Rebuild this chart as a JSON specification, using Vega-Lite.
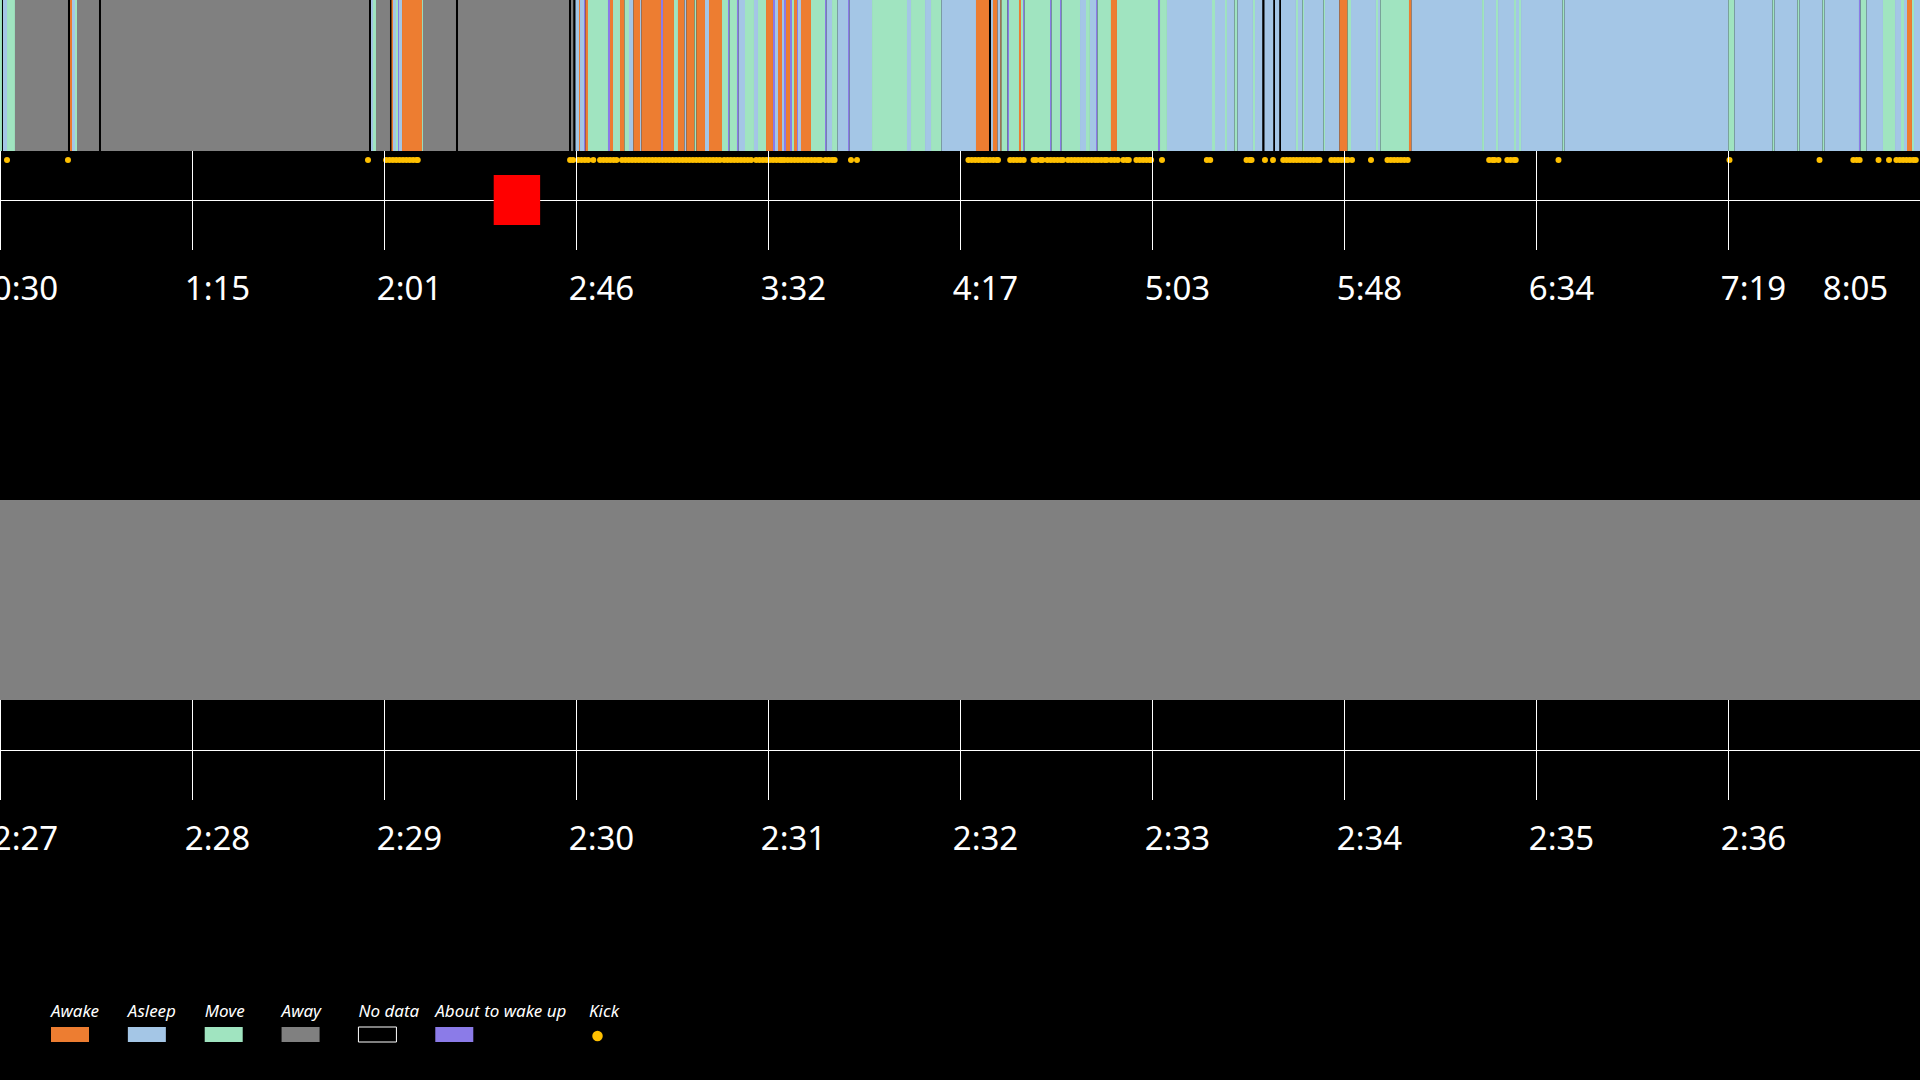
{
"$schema":"https://vega.github.io/schema/vega-lite/v6.json",
"width":1920,"height":1080,"padding":0,"autosize":{"type":"none"},
"background":"#000000",
"config":{"view":{"stroke":null}},
"datasets":{
"states":[
{"start":30.00,"end":30.47,"state":"Move"},{"start":30.47,"end":30.71,"state":"No data"},{"start":30.71,"end":31.66,"state":"Asleep"},{"start":31.66,"end":33.55,"state":"Move"},{"start":33.55,"end":46.11,"state":"Away"},{"start":46.11,"end":46.59,"state":"No data"},{"start":46.59,"end":47.06,"state":"Awake"},{"start":47.06,"end":47.77,"state":"Asleep"},{"start":47.77,"end":48.25,"state":"Move"},{"start":48.25,"end":53.46,"state":"Away"},{"start":53.46,"end":53.93,"state":"No data"},{"start":53.93,"end":117.45,"state":"Away"},{"start":117.45,"end":117.92,"state":"No data"},{"start":117.92,"end":118.39,"state":"Asleep"},{"start":118.39,"end":119.10,"state":"Move"},{"start":119.10,"end":122.42,"state":"Away"},{"start":122.42,"end":122.78,"state":"No data"},{"start":122.78,"end":123.13,"state":"Awake"},{"start":123.13,"end":123.84,"state":"Asleep"},{"start":123.84,"end":124.32,"state":"Move"},{"start":124.32,"end":124.56,"state":"About to wake up"},{"start":124.56,"end":125.27,"state":"Asleep"},{"start":125.27,"end":130.01,"state":"Awake"},{"start":130.01,"end":130.24,"state":"Move"},{"start":130.24,"end":138.06,"state":"Away"},{"start":138.06,"end":138.54,"state":"No data"},{"start":138.54,"end":164.84,"state":"Away"},{"start":164.84,"end":165.31,"state":"No data"},{"start":165.31,"end":165.91,"state":"Away"},{"start":165.91,"end":166.38,"state":"No data"},{"start":166.38,"end":167.21,"state":"Asleep"},{"start":167.21,"end":167.45,"state":"Awake"},{"start":167.45,"end":168.40,"state":"Asleep"},{"start":168.40,"end":168.75,"state":"About to wake up"},{"start":168.75,"end":169.34,"state":"Awake"},{"start":169.34,"end":174.08,"state":"Move"},{"start":174.08,"end":174.56,"state":"About to wake up"},{"start":174.56,"end":175.27,"state":"Awake"},{"start":175.27,"end":176.93,"state":"Move"},{"start":176.93,"end":177.99,"state":"Awake"},{"start":177.99,"end":179.06,"state":"Move"},{"start":179.06,"end":180.13,"state":"Asleep"},{"start":180.13,"end":181.67,"state":"Awake"},{"start":181.67,"end":182.02,"state":"Asleep"},{"start":182.02,"end":186.64,"state":"Awake"},{"start":186.64,"end":187.12,"state":"About to wake up"},{"start":187.12,"end":189.72,"state":"Awake"},{"start":189.72,"end":190.67,"state":"Move"},{"start":190.67,"end":192.21,"state":"Awake"},{"start":192.21,"end":192.68,"state":"Asleep"},{"start":192.68,"end":194.58,"state":"Awake"},{"start":194.58,"end":195.05,"state":"Move"},{"start":195.05,"end":197.07,"state":"Awake"},{"start":197.07,"end":198.02,"state":"Asleep"},{"start":198.02,"end":201.10,"state":"Awake"},{"start":201.10,"end":202.52,"state":"Move"},{"start":202.52,"end":202.88,"state":"About to wake up"},{"start":202.88,"end":204.65,"state":"Move"},{"start":204.65,"end":205.01,"state":"About to wake up"},{"start":205.01,"end":206.55,"state":"Asleep"},{"start":206.55,"end":208.68,"state":"Move"},{"start":208.68,"end":209.63,"state":"Asleep"},{"start":209.63,"end":211.53,"state":"Move"},{"start":211.53,"end":213.18,"state":"Awake"},{"start":213.18,"end":213.66,"state":"About to wake up"},{"start":213.66,"end":214.37,"state":"Asleep"},{"start":214.37,"end":215.32,"state":"Awake"},{"start":215.32,"end":215.79,"state":"Asleep"},{"start":215.79,"end":216.27,"state":"About to wake up"},{"start":216.27,"end":217.21,"state":"Awake"},{"start":217.21,"end":217.69,"state":"About to wake up"},{"start":217.69,"end":218.16,"state":"Move"},{"start":218.16,"end":218.87,"state":"Awake"},{"start":218.87,"end":219.11,"state":"About to wake up"},{"start":219.11,"end":219.82,"state":"Asleep"},{"start":219.82,"end":222.19,"state":"Awake"},{"start":222.19,"end":225.51,"state":"Move"},{"start":225.51,"end":225.86,"state":"About to wake up"},{"start":225.86,"end":227.17,"state":"Asleep"},{"start":227.17,"end":228.47,"state":"Move"},{"start":228.47,"end":230.96,"state":"Asleep"},{"start":230.96,"end":231.32,"state":"About to wake up"},{"start":231.32,"end":236.65,"state":"Asleep"},{"start":236.65,"end":244.94,"state":"Move"},{"start":244.94,"end":245.89,"state":"Asleep"},{"start":245.89,"end":249.21,"state":"Move"},{"start":249.21,"end":250.63,"state":"Asleep"},{"start":250.63,"end":253.11,"state":"Move"},{"start":253.11,"end":261.29,"state":"Asleep"},{"start":261.29,"end":264.37,"state":"Awake"},{"start":264.37,"end":264.85,"state":"No data"},{"start":264.85,"end":265.32,"state":"Asleep"},{"start":265.32,"end":266.39,"state":"Awake"},{"start":266.39,"end":267.10,"state":"Asleep"},{"start":267.10,"end":267.33,"state":"Awake"},{"start":267.33,"end":268.75,"state":"Move"},{"start":268.75,"end":269.11,"state":"About to wake up"},{"start":269.11,"end":271.48,"state":"Move"},{"start":271.48,"end":271.96,"state":"Awake"},{"start":271.96,"end":272.43,"state":"Move"},{"start":272.43,"end":272.78,"state":"About to wake up"},{"start":272.78,"end":278.83,"state":"Move"},{"start":278.83,"end":279.18,"state":"About to wake up"},{"start":279.18,"end":281.20,"state":"Move"},{"start":281.20,"end":281.55,"state":"About to wake up"},{"start":281.55,"end":285.94,"state":"Move"},{"start":285.94,"end":287.36,"state":"Asleep"},{"start":287.36,"end":288.30,"state":"Move"},{"start":288.30,"end":289.73,"state":"Asleep"},{"start":289.73,"end":290.08,"state":"About to wake up"},{"start":290.08,"end":293.28,"state":"Move"},{"start":293.28,"end":294.70,"state":"Awake"},{"start":294.70,"end":304.42,"state":"Move"},{"start":304.42,"end":304.90,"state":"About to wake up"},{"start":304.90,"end":306.55,"state":"Move"},{"start":306.55,"end":317.22,"state":"Asleep"},{"start":317.22,"end":317.93,"state":"Move"},{"start":317.93,"end":320.30,"state":"Asleep"},{"start":320.30,"end":320.77,"state":"Move"},{"start":320.77,"end":322.55,"state":"Asleep"},{"start":322.55,"end":323.26,"state":"Move"},{"start":323.26,"end":326.93,"state":"Asleep"},{"start":326.93,"end":327.41,"state":"Move"},{"start":327.41,"end":329.18,"state":"Asleep"},{"start":329.18,"end":329.66,"state":"No data"},{"start":329.66,"end":331.79,"state":"Asleep"},{"start":331.79,"end":332.15,"state":"No data"},{"start":332.15,"end":333.21,"state":"Asleep"},{"start":333.21,"end":333.57,"state":"No data"},{"start":333.57,"end":337.12,"state":"Asleep"},{"start":337.12,"end":337.60,"state":"Move"},{"start":337.60,"end":338.66,"state":"Asleep"},{"start":338.66,"end":339.02,"state":"Move"},{"start":339.02,"end":343.64,"state":"Asleep"},{"start":343.64,"end":344.00,"state":"Move"},{"start":344.00,"end":347.43,"state":"Asleep"},{"start":347.43,"end":349.33,"state":"Awake"},{"start":349.33,"end":350.16,"state":"Move"},{"start":350.16,"end":356.08,"state":"Asleep"},{"start":356.08,"end":356.56,"state":"Move"},{"start":356.56,"end":357.15,"state":"Asleep"},{"start":357.15,"end":363.90,"state":"Move"},{"start":363.90,"end":364.50,"state":"Awake"},{"start":364.50,"end":381.21,"state":"Asleep"},{"start":381.21,"end":381.68,"state":"Move"},{"start":381.68,"end":384.52,"state":"Asleep"},{"start":384.52,"end":385.00,"state":"Move"},{"start":385.00,"end":388.79,"state":"Asleep"},{"start":388.79,"end":389.26,"state":"Move"},{"start":389.26,"end":389.97,"state":"Asleep"},{"start":389.97,"end":390.45,"state":"Move"},{"start":390.45,"end":400.28,"state":"Asleep"},{"start":400.28,"end":400.75,"state":"Move"},{"start":400.75,"end":439.62,"state":"Asleep"},{"start":439.62,"end":441.04,"state":"Move"},{"start":441.04,"end":450.04,"state":"Asleep"},{"start":450.04,"end":450.52,"state":"Move"},{"start":450.52,"end":455.97,"state":"Asleep"},{"start":455.97,"end":456.44,"state":"Move"},{"start":456.44,"end":461.89,"state":"Asleep"},{"start":461.89,"end":462.37,"state":"Move"},{"start":462.37,"end":470.54,"state":"Asleep"},{"start":470.54,"end":470.90,"state":"About to wake up"},{"start":470.90,"end":472.32,"state":"Move"},{"start":472.32,"end":476.23,"state":"Asleep"},{"start":476.23,"end":479.08,"state":"Move"},{"start":479.08,"end":480.50,"state":"Asleep"},{"start":480.50,"end":481.21,"state":"Move"},{"start":481.21,"end":481.92,"state":"Asleep"},{"start":481.92,"end":483.10,"state":"Awake"},{"start":483.10,"end":483.58,"state":"Move"},{"start":483.58,"end":485.00,"state":"Asleep"}
],
"kicks":[
{"t":31.66},{"t":46.11},{"t":117.21},
{"t":121.5},{"t":122.3},{"t":123.1},{"t":123.9},{"t":124.7},{"t":125.5},{"t":126.3},{"t":127.1},{"t":127.9},{"t":128.7},{"t":129.0},
{"t":165.1},{"t":165.8},{"t":167.0},{"t":167.8},{"t":168.6},{"t":169.4},{"t":170.6},{"t":172.2},{"t":173.0},{"t":173.8},{"t":174.6},{"t":175.4},{"t":176.1},{"t":177.4},{"t":178.2},{"t":179.0},{"t":179.8},{"t":180.6},{"t":181.4},{"t":182.2},{"t":183.0},{"t":183.8},{"t":184.6},{"t":185.4},{"t":186.2},{"t":187.0},{"t":187.8},{"t":188.6},
{"t":189.4},{"t":190.2},{"t":191.0},{"t":191.8},{"t":192.6},{"t":193.4},{"t":194.2},{"t":195.0},{"t":195.8},{"t":196.6},{"t":197.4},{"t":198.2},{"t":199.0},{"t":199.8},{"t":200.6},{"t":201.6},{"t":202.4},{"t":203.2},{"t":204.0},{"t":204.8},{"t":205.6},{"t":206.4},{"t":207.2},{"t":208.0},
{"t":209.2},{"t":210.0},{"t":210.8},{"t":211.6},{"t":212.4},{"t":213.2},{"t":214.0},{"t":214.8},{"t":215.3},
{"t":215.9},{"t":216.7},{"t":217.5},{"t":218.3},{"t":219.1},{"t":219.9},{"t":220.7},{"t":221.5},{"t":222.3},{"t":223.1},{"t":223.9},{"t":224.5},
{"t":225.6},{"t":226.4},{"t":227.2},{"t":227.8},
{"t":231.67},{"t":233.09},
{"t":259.5},{"t":260.3},{"t":261.1},{"t":261.9},{"t":262.7},{"t":263.1},
{"t":263.8},{"t":264.6},{"t":265.4},{"t":266.2},{"t":266.5},
{"t":269.4},{"t":270.2},{"t":271.0},{"t":271.8},{"t":272.6},
{"t":274.92},{"t":275.51},{"t":276.58},{"t":277.05},
{"t":278.2},{"t":279.0},{"t":279.8},{"t":280.6},{"t":281.4},{"t":281.9},
{"t":283.1},{"t":283.9},{"t":284.7},{"t":285.5},{"t":286.3},{"t":287.1},{"t":287.9},{"t":288.7},{"t":289.5},{"t":290.2},
{"t":291.0},{"t":291.8},{"t":292.3},
{"t":293.3},{"t":294.1},{"t":294.9},
{"t":296.2},{"t":297.0},{"t":297.5},
{"t":299.3},{"t":300.1},{"t":300.9},{"t":301.7},{"t":302.5},{"t":302.8},
{"t":305.37},
{"t":316.0},{"t":316.8},
{"t":325.4},{"t":326.2},{"t":326.6},
{"t":329.77},{"t":331.67},
{"t":334.1},{"t":334.9},{"t":335.7},{"t":336.5},{"t":337.3},{"t":338.1},{"t":338.9},{"t":339.7},{"t":340.5},{"t":341.3},{"t":342.1},{"t":342.7},
{"t":345.5},{"t":346.3},{"t":347.1},{"t":347.9},{"t":348.7},{"t":349.4},
{"t":350.40},{"t":354.90},
{"t":358.8},{"t":359.6},{"t":360.4},{"t":361.2},{"t":362.0},{"t":362.8},{"t":363.6},
{"t":382.9},{"t":383.7},{"t":384.2},{"t":385.11},
{"t":387.2},{"t":388.0},{"t":388.8},{"t":389.2},
{"t":399.33},{"t":439.86},{"t":461.19},
{"t":469.2},{"t":470.0},{"t":470.7},
{"t":475.17},{"t":477.66},
{"t":479.4},{"t":480.2},{"t":481.0},{"t":481.8},{"t":482.6},{"t":483.4},{"t":484.0}
],
"ticksTop":[
{"t":30,"label":"0:30"},{"t":75.5,"label":"1:15"},{"t":121,"label":"2:01"},{"t":166.5,"label":"2:46"},{"t":212,"label":"3:32"},{"t":257.5,"label":"4:17"},{"t":303,"label":"5:03"},{"t":348.5,"label":"5:48"},{"t":394,"label":"6:34"},{"t":439.5,"label":"7:19"},{"t":485,"label":"8:05"}
],
"ticksBottom":[
{"t":147,"label":"2:27"},{"t":148,"label":"2:28"},{"t":149,"label":"2:29"},{"t":150,"label":"2:30"},{"t":151,"label":"2:31"},{"t":152,"label":"2:32"},{"t":153,"label":"2:33"},{"t":154,"label":"2:34"},{"t":155,"label":"2:35"},{"t":156,"label":"2:36"},{"t":157,"label":"2:37"}
],
"window":[{"start":147,"end":158}],
"legendItems":[
{"state":"Awake","kind":"swatch"},{"state":"Asleep","kind":"swatch"},{"state":"Move","kind":"swatch"},{"state":"Away","kind":"swatch"},{"state":"No data","kind":"swatch"},{"state":"About to wake up","kind":"swatch"},{"state":"Kick","kind":"dot"}
]
},
"resolve":{"scale":{"x":"independent"}},
"layer":[
{
"layer":[
{"data":{"name":"states"},"mark":{"type":"rect"},
"encoding":{
"x":{"field":"start","type":"quantitative","scale":{"domain":[30,485],"nice":false,"zero":false},"axis":null},
"x2":{"field":"end"},
"y":{"datum":0,"type":"quantitative","scale":{"domain":[0,1080],"reverse":true,"nice":false,"zero":false},"axis":null},
"y2":{"datum":151},
"color":{"field":"state","type":"nominal","legend":null,
"scale":{"domain":["Awake","Asleep","Move","Away","No data","About to wake up","Kick"],"range":["#ED7D31","#A4C6E6","#A0E4C0","#808080","#000000","#8B7BE8","#FFC000"]}}}},
{"data":{"name":"kicks"},"mark":{"type":"circle","size":36,"opacity":1,"color":"#FFC000"},
"encoding":{"x":{"field":"t","type":"quantitative","axis":null},"y":{"datum":160,"type":"quantitative"}}},
{"data":{"name":"ticksTop"},"mark":{"type":"rule","color":"#ffffff","strokeWidth":1,"xOffset":0.5},
"encoding":{"x":{"field":"t","type":"quantitative"},"y":{"datum":151,"type":"quantitative"},"y2":{"datum":250}}},
{"data":{"values":[{}]},"mark":{"type":"rule","color":"#ffffff","strokeWidth":1,"yOffset":0.5},
"encoding":{"y":{"datum":200,"type":"quantitative"}}},
{"data":{"name":"window"},"mark":{"type":"rect","color":"#FF0000"},
"encoding":{"x":{"field":"start","type":"quantitative"},"x2":{"field":"end"},"y":{"datum":175,"type":"quantitative"},"y2":{"datum":225}}},
{"data":{"name":"ticksTop"},"transform":[{"filter":"datum.t < 485"}],
"mark":{"type":"text","font":"Noto Sans","fontSize":33,"color":"#ffffff","align":"center","baseline":"alphabetic","dx":25.5},
"encoding":{"x":{"field":"t","type":"quantitative"},"y":{"datum":300,"type":"quantitative"},"text":{"field":"label"}}},
{"data":{"name":"ticksTop"},"transform":[{"filter":"datum.t >= 485"}],
"mark":{"type":"text","font":"Noto Sans","fontSize":33,"color":"#ffffff","align":"center","baseline":"alphabetic","dx":-64.5},
"encoding":{"x":{"field":"t","type":"quantitative"},"y":{"datum":300,"type":"quantitative"},"text":{"field":"label"}}}
]
},
{
"layer":[
{"data":{"name":"states"},"mark":{"type":"rect","clip":true},
"encoding":{
"x":{"field":"start","type":"quantitative","scale":{"domain":[147,157],"nice":false,"zero":false},"axis":null},
"x2":{"field":"end"},
"y":{"datum":500,"type":"quantitative","axis":null},
"y2":{"datum":700},
"color":{"field":"state","type":"nominal","legend":null}}},
{"data":{"name":"ticksBottom"},"mark":{"type":"rule","color":"#ffffff","strokeWidth":1,"xOffset":0.5},
"encoding":{"x":{"field":"t","type":"quantitative"},"y":{"datum":700,"type":"quantitative"},"y2":{"datum":800}}},
{"data":{"values":[{}]},"mark":{"type":"rule","color":"#ffffff","strokeWidth":1,"yOffset":0.5},
"encoding":{"y":{"datum":750,"type":"quantitative"}}},
{"data":{"name":"ticksBottom"},"transform":[{"filter":"datum.t < 157"}],
"mark":{"type":"text","font":"Noto Sans","fontSize":33,"color":"#ffffff","align":"center","baseline":"alphabetic","dx":25.5},
"encoding":{"x":{"field":"t","type":"quantitative"},"y":{"datum":850,"type":"quantitative"},"text":{"field":"label"}}}
]
},
{
"layer":[
{"data":{"name":"legendItems"},"transform":[{"filter":"datum.kind === 'swatch'"}],
"mark":{"type":"rect","width":38,"xOffset":19},
"encoding":{
"x":{"field":"state","type":"nominal","axis":null,"scale":{"type":"point","domain":["Awake","Asleep","Move","Away","No data","About to wake up"," ","Kick"],"range":[51,589],"padding":0}},
"y":{"datum":1027,"type":"quantitative","axis":null},"y2":{"datum":1042},
"color":{"field":"state","type":"nominal","legend":null},
"stroke":{"condition":{"test":"datum.state === 'No data'","value":"#ffffff"},"value":null},
"strokeWidth":{"value":1}}},
{"data":{"name":"legendItems"},"transform":[{"filter":"datum.kind === 'dot'"}],
"mark":{"type":"circle","size":110,"opacity":1,"xOffset":8.5},
"encoding":{"x":{"field":"state","type":"nominal"},"y":{"datum":1036,"type":"quantitative"},
"color":{"field":"state","type":"nominal","legend":null}}},
{"data":{"name":"legendItems"},
"mark":{"type":"text","font":"Noto Sans","fontSize":17,"fontStyle":"italic","color":"#ffffff","align":"left","baseline":"alphabetic"},
"encoding":{"x":{"field":"state","type":"nominal"},"y":{"datum":1017,"type":"quantitative"},"text":{"field":"state"}}}
]
}
]
}
